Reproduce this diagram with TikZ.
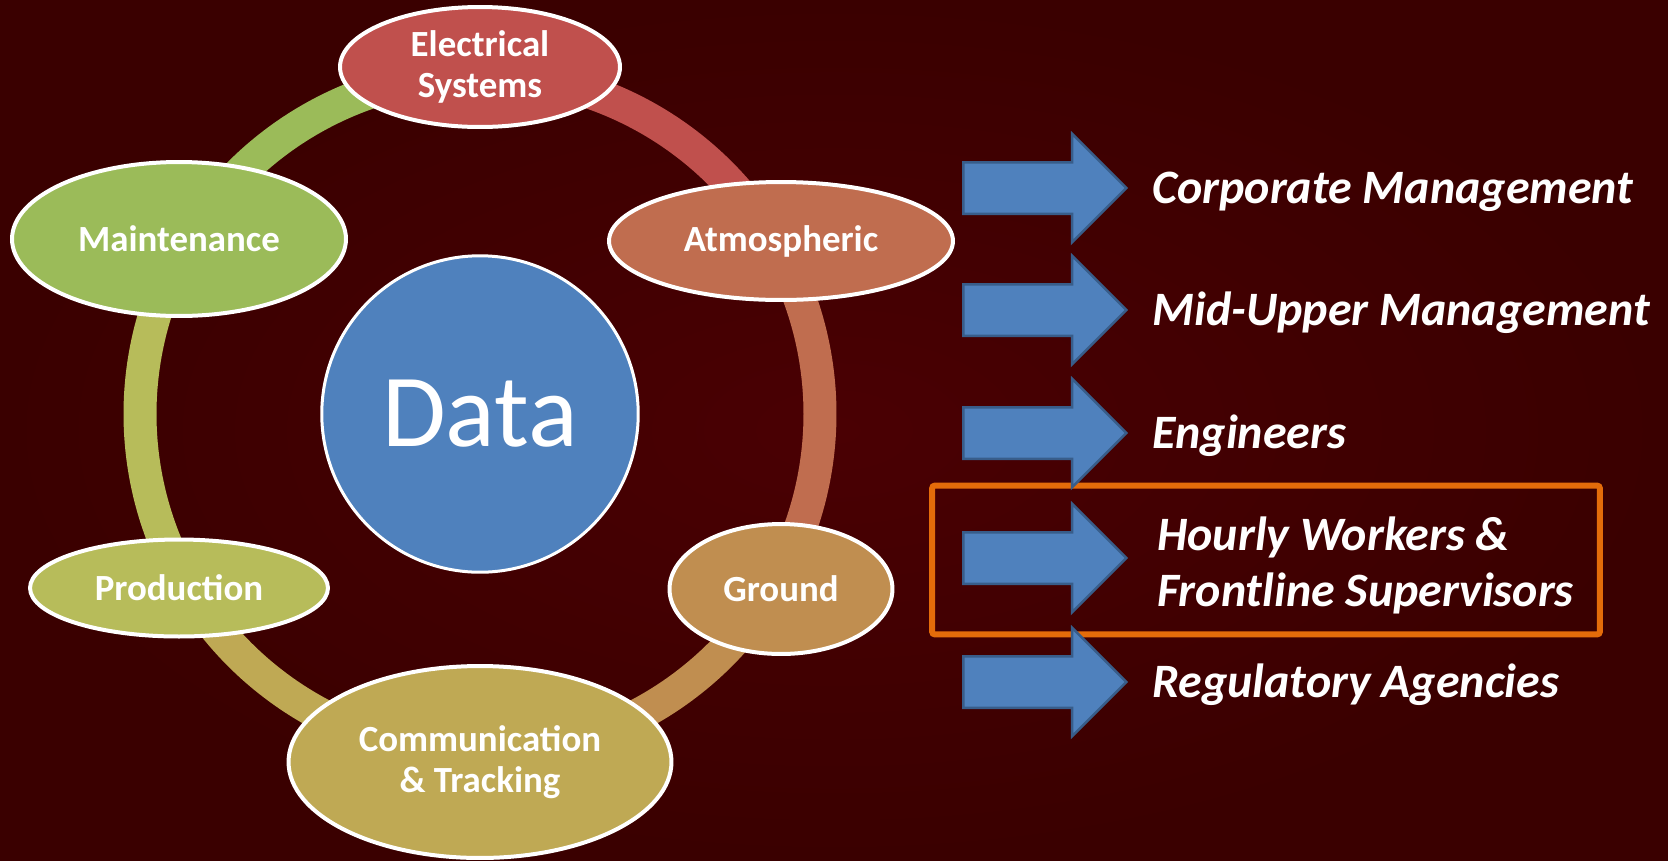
\documentclass[tikz,border=0pt]{standalone}
\usepackage{fontspec}
\setmainfont{Carlito}
\usetikzlibrary{positioning,shapes.geometric,shapes.arrows}
\definecolor{bgin}{HTML}{4A0003}
\definecolor{bgout}{HTML}{3A0000}
\definecolor{elec}{HTML}{C0504D}
\definecolor{atmo}{HTML}{C06D4F}
\definecolor{grnd}{HTML}{C08E50}
\definecolor{comm}{HTML}{BFA954}
\definecolor{prod}{HTML}{B7BC5A}
\definecolor{maint}{HTML}{9BBB59}
\definecolor{datablue}{HTML}{4F81BD}
\definecolor{arrowedge}{HTML}{385D8A}
\definecolor{hlorange}{HTML}{E46C0A}
\tikzset{
  area/.style={ellipse, draw=white, line width=0.08cm, text=white, align=center,
    font=\bfseries\fontsize{21}{23.3}\selectfont, inner sep=0pt},
  ring/.style={line width=0.66cm},
  outarrow/.style={single arrow, fill=datablue, draw=arrowedge, line width=0.05cm,
    inner xsep=0pt, inner ysep=0.49cm, single arrow head extend=0.57cm, minimum height=3.26cm},
  audience/.style={text=white, font=\bfseries\itshape\fontsize{27.3}{31.9}\selectfont,
    inner sep=0pt, align=left},
}
\begin{document}
\begin{tikzpicture}[x=0.02cm, y=-0.02cm]
% Background
\shade[inner color=bgin, outer color=bgout] (0,0) rectangle (1668,860);
\useasboundingbox (0,0) rectangle (1668,860);

% Cycle ring
\coordinate (hub) at (480,414);
\foreach \a/\c in {-90/elec, -30/atmo, 30/grnd, 90/comm, 150/prod, 210/maint}
  \draw[ring, \c] (hub) ++(\a:340) arc[start angle=\a, delta angle=60, radius=340];

% Data sources
\node[area, fill=elec, minimum width=5.6cm, minimum height=2.4cm] (electrical) at (480,67) {Electrical\\Systems};
\node[area, fill=atmo, minimum width=6.88cm, minimum height=2.36cm] (atmospheric) at (781,241) {Atmospheric};
\node[area, fill=grnd, minimum width=4.46cm, minimum height=2.6cm] (ground) at (781,589) {Ground};
\node[area, fill=comm, minimum width=7.66cm, minimum height=3.84cm] (communication) at (480,762) {Communication\\\& Tracking};
\node[area, fill=prod, minimum width=5.96cm, minimum height=1.94cm] (production) at (179,588) {Production};
\node[area, fill=maint, minimum width=6.68cm, minimum height=3.08cm] (maintenance) at (179,239) {Maintenance};

% Hub
\node[circle, draw=white, line width=0.06cm, fill=datablue, text=white, minimum size=6.33cm,
  font=\fontsize{59}{62}\selectfont] (data) at (hub) {Data};

% Highlight box
\node[draw=hlorange, line width=0.12cm, rounded corners=0.06cm, minimum width=13.36cm,
  minimum height=2.98cm] (hlbox) at (1266,560) {};

% Audiences
\foreach \y/\name/\txt in {188/corp/Corporate Management, 310/mid/Mid-Upper Management,
    433/eng/Engineers, 682/reg/Regulatory Agencies} {
  \node[outarrow] (\name) at (1032,\y) {};
  \node[audience, anchor=base west] (\name-text) at (1152,\y+15) {\txt};
}
\node[outarrow] (hourly) at (1032,558) {};
\node[audience, anchor=west] (hourly-text) at (1157,565) {Hourly Workers \&\\Frontline Supervisors};
\end{tikzpicture}
\end{document}
